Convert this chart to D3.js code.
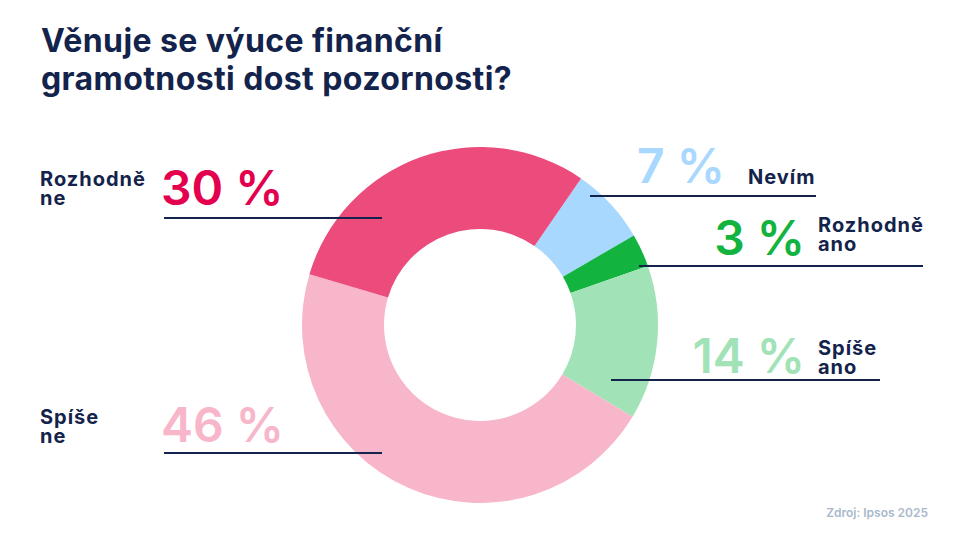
<!DOCTYPE html>
<html>
<head>
<meta charset="utf-8">
<script src="https://cdn.jsdelivr.net/npm/d3@7"></script>
<style>
  body { margin: 0; background: #fff; }
  text { font-family: Inter, "Noto Sans", sans-serif; }
</style>
</head>
<body>
<div id="chart"></div>
<script>
// Data
const categories = ["Nevím", "Rozhodně ano", "Spíše ano", "Spíše ne", "Rozhodně ne"];
const values = [7, 3, 14, 46, 30];
const sliceColors = ["#a9d8ff", "#12b33f", "#a1e3b6", "#f7b6c9", "#ec4c7c"];
const textColors = ["#a9d8ff", "#12b33f", "#a1e3b6", "#f7b6c9", "#e2004f"];

const width = 961, height = 541;
const navy = "#13234b";

const svg = d3.select("#chart").append("svg")
    .attr("width", width)
    .attr("height", height);

// Title
svg.append("text")
    .attr("x", 41)
    .attr("y", 52)
    .attr("fill", navy)
    .style("font-size", "32px")
    .style("font-weight", 700)
    .style("letter-spacing", "0.4px")
    .selectAll("tspan")
    .data(["Věnuje se výuce finanční", "gramotnosti dost pozornosti?"])
    .enter()
    .append("tspan")
    .attr("x", 41)
    .attr("dy", (d, i) => i === 0 ? 0 : 38)
    .text(d => d);

// Donut
const cx = 480, cy = 325;
const start = 34.6 * Math.PI / 180;
const pie = d3.pie().sort(null).startAngle(start).endAngle(start + 2 * Math.PI);
const arc = d3.arc().innerRadius(96).outerRadius(178);

svg.append("g")
    .attr("transform", `translate(${cx},${cy})`)
    .selectAll("path")
    .data(pie(values))
    .enter()
    .append("path")
    .attr("d", arc)
    .attr("fill", (d, i) => sliceColors[i]);

// Label layout: leader line and text placement per category
const layout = [
    { x1: 590, x2: 816, ly: 196, px: 725, py: 183, anchor: "end", lx: 748, labelLines: ["Nevím"], ty: 184 },
    { x1: 639, x2: 923, ly: 266, px: 805, py: 255, anchor: "end", lx: 818, labelLines: ["Rozhodně", "ano"], ty: 232 },
    { x1: 611, x2: 880, ly: 380, px: 805, py: 373, anchor: "end", lx: 818, labelLines: ["Spíše", "ano"], ty: 355 },
    { x1: 164, x2: 382, ly: 453, px: 161, py: 442, anchor: "start", lx: 40, labelLines: ["Spíše", "ne"], ty: 424 },
    { x1: 164, x2: 382, ly: 218, px: 161, py: 205, anchor: "start", lx: 40, labelLines: ["Rozhodně", "ne"], ty: 186 }
];

const labels = svg.append("g")
    .selectAll("g")
    .data(values)
    .enter()
    .append("g");

labels.append("line")
    .attr("x1", (d, i) => layout[i].x1)
    .attr("x2", (d, i) => layout[i].x2)
    .attr("y1", (d, i) => layout[i].ly)
    .attr("y2", (d, i) => layout[i].ly)
    .attr("stroke", navy)
    .attr("stroke-width", 2);

labels.append("text")
    .attr("x", (d, i) => layout[i].px)
    .attr("y", (d, i) => layout[i].py)
    .attr("text-anchor", (d, i) => layout[i].anchor)
    .attr("fill", (d, i) => textColors[i])
    .style("font-size", "48px")
    .style("font-weight", 600)
    .text(d => `${d} %`);

labels.append("text")
    .attr("y", (d, i) => layout[i].ty)
    .attr("fill", navy)
    .style("font-size", "20px")
    .style("font-weight", 700)
    .style("letter-spacing", "1px")
    .selectAll("tspan")
    .data((d, i) => layout[i].labelLines.map(t => ({ t, x: layout[i].lx })))
    .enter()
    .append("tspan")
    .attr("x", d => d.x)
    .attr("dy", (d, j) => j === 0 ? 0 : 19)
    .text(d => d.t);

// Source
svg.append("text")
    .attr("x", 928)
    .attr("y", 517)
    .attr("text-anchor", "end")
    .attr("fill", "#a9b9cc")
    .style("font-size", "12px")
    .style("font-weight", 600)
    .text("Zdroj: Ipsos 2025");
</script>
</body>
</html>
